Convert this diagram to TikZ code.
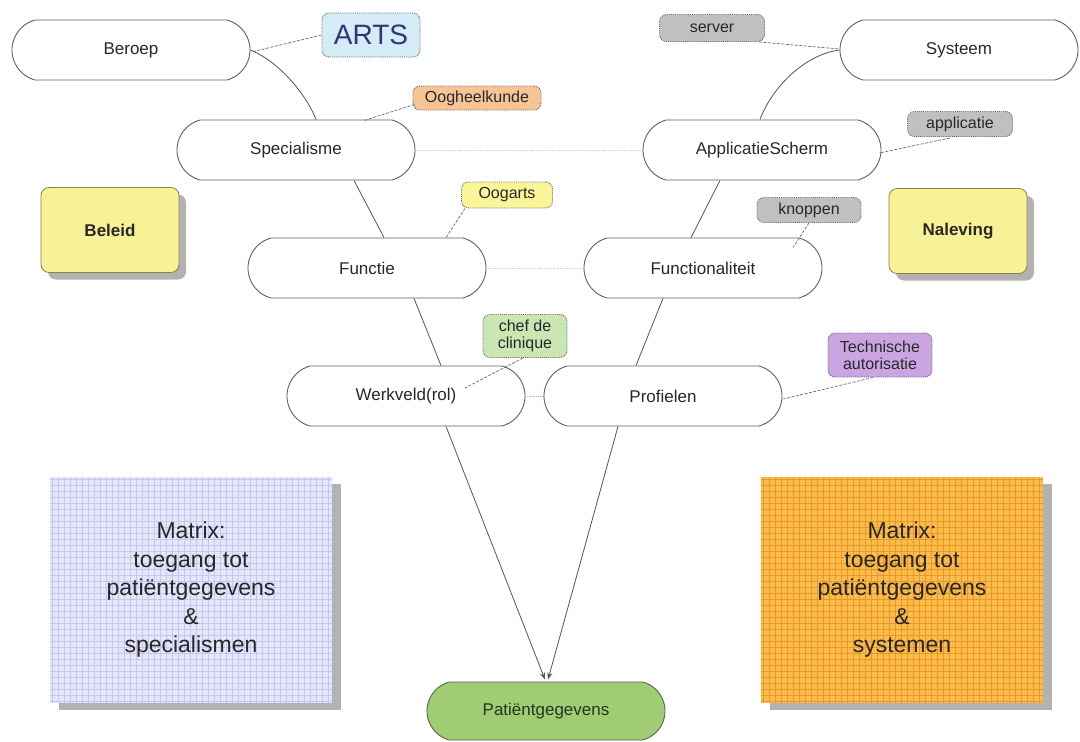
\documentclass[tikz,border=0pt]{standalone}
\usepackage{fontspec}
\setmainfont{Liberation Sans}
\usetikzlibrary{shapes.misc,backgrounds,calc,arrows.meta,shadows}

\definecolor{ink}{RGB}{40,40,40}
\definecolor{pillline}{RGB}{95,95,95}
\definecolor{linkline}{RGB}{85,85,85}
\definecolor{tagline}{RGB}{105,105,105}
\definecolor{faintline}{RGB}{205,205,205}
\definecolor{shadowgray}{RGB}{178,178,178}
\definecolor{artsfill}{RGB}{212,236,246}
\definecolor{artsink}{RGB}{52,52,120}
\definecolor{orangetag}{RGB}{247,196,150}
\definecolor{yellowtag}{RGB}{250,245,152}
\definecolor{greentag}{RGB}{202,230,178}
\definecolor{graytag}{RGB}{192,192,192}
\definecolor{purpletag}{RGB}{202,165,225}
\definecolor{notefill}{RGB}{248,242,150}
\definecolor{noteline}{RGB}{140,130,70}
\definecolor{patfill}{RGB}{160,205,116}
\definecolor{patline}{RGB}{85,105,70}
\definecolor{patink}{RGB}{35,55,30}
\definecolor{lavfill}{RGB}{230,230,251}
\definecolor{lavgrid}{RGB}{198,198,238}
\definecolor{orfill}{RGB}{250,188,74}
\definecolor{orgrid}{RGB}{236,152,40}

\begin{document}
\begin{tikzpicture}[x=1pt,y=-1pt,
  pill/.style={rounded rectangle, rounded rectangle arc length=150,
    draw=pillline, line width=0.9pt, fill=white,
    minimum width=238pt, minimum height=60pt, inner sep=0pt,
    text=ink, font=\fontsize{17}{20}\selectfont},
  tag/.style={draw=tagline, densely dotted, line width=0.9pt,
    rounded corners=7pt, inner sep=1pt, align=center, text=ink,
    font=\fontsize{16}{17}\selectfont},
  note/.style={draw=noteline, line width=0.8pt, fill=notefill,
    rounded corners=8pt, minimum width=138pt, minimum height=85pt,
    text=ink, font=\fontsize{17}{20}\selectfont\bfseries,
    drop shadow={shadow xshift=7pt, shadow yshift=-7pt, fill=shadowgray, opacity=1}},
  matbox/.style={minimum width=282pt, minimum height=226pt, inner sep=0pt,
    align=center, text=ink, font=\fontsize{23}{28.5}\selectfont,
    drop shadow={shadow xshift=9pt, shadow yshift=-7pt, fill=shadowgray, opacity=1}},
  chain/.style={draw=linkline, line width=0.8pt},
  pointer/.style={chain, -{Stealth[length=7pt,width=5pt]}},
  taglink/.style={draw=tagline, dashed, dash pattern=on 3pt off 1.5pt, line width=0.7pt},
  peer/.style={draw=faintline, densely dotted, line width=0.8pt}
]
\useasboundingbox (0,0) rectangle (1080,742);

% pills of the two chains
\node[pill] (beroep) at (131,50) {Beroep};
\node[pill] (spec) at (296,150) {Specialisme};
\node[pill] (functie) at (367,268) {Functie};
\node[pill] (werkveld) at (406,396) {Werkveld(rol)};
\node[pill] (systeem) at (959,50) {Systeem};
\node[pill] (appl) at (762,150) {ApplicatieScherm};
\node[pill] (functio) at (703,268) {Functionaliteit};
\node[pill] (profielen) at (663,396) {Profielen};
\node[pill, fill=patfill, draw=patline, text=patink, minimum height=58pt] (patient) at (546,711) {Patiëntgegevens};

% example tags
\node[tag, fill=artsfill, text=artsink, minimum width=98pt, minimum height=44pt,
  font=\fontsize{28}{30}\selectfont] (arts) at (371,35) {ARTS};
\node[tag, fill=orangetag, minimum width=128pt, minimum height=24pt] (oog) at (477,98) {Oogheelkunde};
\node[tag, fill=yellowtag, minimum width=91pt, minimum height=26pt] (oogarts) at (507,195) {Oogarts};
\node[tag, fill=greentag, minimum width=84pt, minimum height=43pt] (chef) at (525,336) {chef de\\clinique};
\node[tag, fill=graytag, minimum width=105pt, minimum height=27pt] (server) at (712,28) {server};
\node[tag, fill=graytag, minimum width=105pt, minimum height=25pt] (applic) at (960,124) {applicatie};
\node[tag, fill=graytag, minimum width=104pt, minimum height=25pt] (knoppen) at (809,210) {knoppen};
\node[tag, fill=purpletag, minimum width=104pt, minimum height=44pt] (techn) at (880,355) {Technische\\autorisatie};

% side notes
\node[note] (beleid) at (110,230) {Beleid};
\node[note] (naleving) at (958,231) {Naleving};

% matrices on squared paper
\node[matbox, fill=lavfill, path picture={
    \draw[lavgrid, line width=0.5pt, step=6pt]
      (path picture bounding box.south west) grid (path picture bounding box.north east);}]
  (matleft) at (191,590) {Matrix:\\toegang tot\\patiëntgegevens\\\&\\specialismen};
\node[matbox, fill=orfill, path picture={
    \draw[orgrid, line width=0.5pt, step=6pt]
      (path picture bounding box.south west) grid (path picture bounding box.north east);}]
  (matright) at (902,590) {Matrix:\\toegang tot\\patiëntgegevens\\\&\\systemen};

\begin{pgfonlayer}{background}
  \fill[white] (0,0) rectangle (1080,742);
  % left chain
  \draw[chain] (beroep.east) .. controls ($(beroep.east)+(30,12)$) and ($(spec.north)+(12,-22)$) .. ($(spec.north)+(20,0)$);
  \draw[chain] ($(spec.south)+(58,0)$) -- ($(functie.north)+(17,0)$);
  \draw[chain] ($(functie.south)+(47,0)$) -- ($(werkveld.north)+(35,0)$);
  \draw[pointer] ($(werkveld.south)+(40,0)$) -- ($(patient.north)+(-1,-2)$);
  % right chain
  \draw[chain] (systeem.west) .. controls ($(systeem.west)+(-38,5)$) and ($(appl.north)+(8,-28)$) .. ($(appl.north)+(-2,0)$);
  \draw[chain] ($(appl.south)+(-42,0)$) -- ($(functio.north)+(-12,0)$);
  \draw[chain] ($(functio.south)+(-40,0)$) -- ($(profielen.north)+(-27,0)$);
  \draw[pointer] ($(profielen.south)+(-45,0)$) -- ($(patient.north)+(2,-2)$);
  % peers across the two chains
  \draw[peer] (spec.east) -- (appl.west);
  \draw[peer] (functie.east) -- (functio.west);
  \draw[peer, draw=shadowgray] (werkveld.east) -- (profielen.west);
\end{pgfonlayer}

% tag connectors
\draw[taglink] (arts.west) -- ($(beroep.east)+(1,2)$);
\draw[taglink] ($(oog.south west)+(2,-6)$) -- ($(spec.north east)+(-28,1)$);
\draw[taglink] ($(oogarts.south west)+(4,0)$) -- ($(functie.north)+(79,0)$);
\draw[taglink] ($(chef.south)+(-2,0)$) -- ($(werkveld.center)+(59,-8)$);
\draw[taglink] ($(server.south east)+(-6,0)$) -- ($(systeem.west)+(0,-1)$);
\draw[taglink] ($(applic.south)+(-10,1)$) -- ($(appl.east)+(-2,3)$);
\draw[taglink] ($(knoppen.south)+(0,0)$) -- ($(functio.north east)+(-6,10)$);
\draw[taglink] ($(techn.south)+(-7,0)$) -- ($(profielen.east)+(1,3)$);
\end{tikzpicture}
\end{document}
